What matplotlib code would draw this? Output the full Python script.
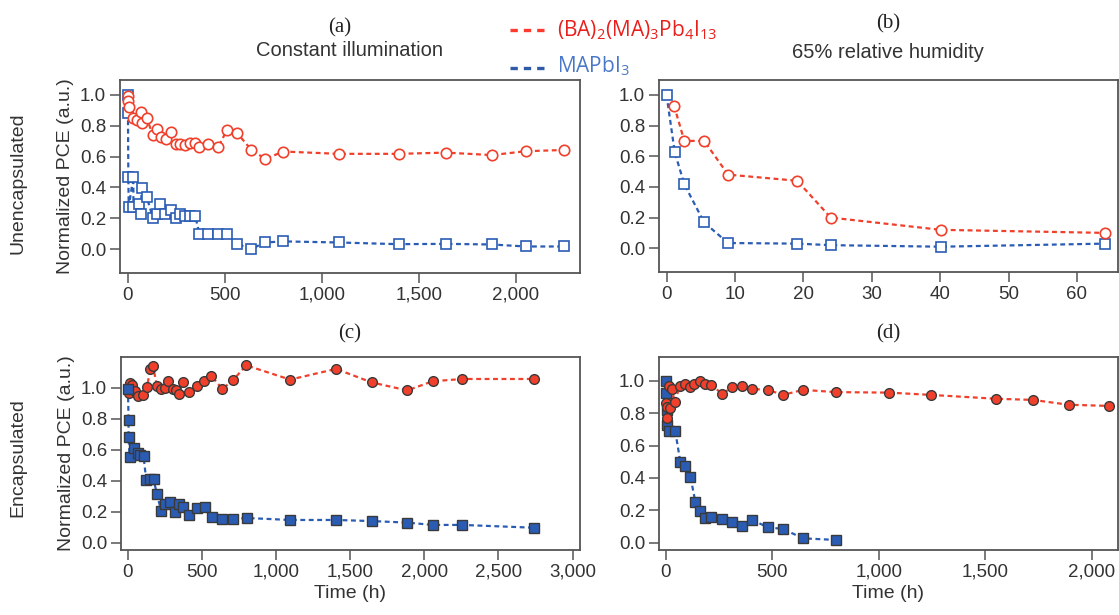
import matplotlib.pyplot as plt
from matplotlib.ticker import FuncFormatter, MultipleLocator

# (a) uncapsulated, constant illumination
a_bapi_t = [3, 3, 5, 29, 46, 67, 72, 98, 129, 149, 172, 196, 223, 249, 270, 295,
            321, 347, 369, 415, 467, 510, 562, 636, 708, 802, 1086, 1395, 1639,
            1876, 2050, 2245]
a_bapi_y = [0.99, 0.96, 0.92, 0.85, 0.84, 0.89, 0.82, 0.85, 0.74, 0.78, 0.73,
            0.715, 0.76, 0.68, 0.685, 0.675, 0.69, 0.69, 0.665, 0.68, 0.665,
            0.77, 0.755, 0.645, 0.585, 0.633, 0.618, 0.618, 0.626, 0.61, 0.635,
            0.643]
a_mapi_t = [0, 1, 3, 5, 29, 29, 60, 67, 72, 98, 129, 149, 167, 193, 223, 249,
            270, 295, 321, 347, 369, 415, 467, 510, 562, 634, 708, 802, 1086,
            1395, 1639, 1876, 2050, 2245]
a_mapi_y = [1.0, 0.885, 0.467, 0.276, 0.467, 0.27, 0.29, 0.227, 0.395, 0.337,
            0.205, 0.227, 0.29, 0.227, 0.255, 0.205, 0.227, 0.218, 0.218, 0.218,
            0.1, 0.1, 0.1, 0.1, 0.034, 0.0, 0.043, 0.05, 0.043, 0.032, 0.034,
            0.03, 0.017, 0.017]

# (b) uncapsulated, 65% RH
b_bapi_t = [1.1, 2.6, 5.5, 9.0, 19.1, 24.0, 40.1, 64.1]
b_bapi_y = [0.93, 0.70, 0.70, 0.48, 0.44, 0.20, 0.12, 0.10]
b_mapi_t = [0, 1.2, 2.6, 5.5, 9.0, 19.1, 24.0, 40.1, 64.1]
b_mapi_y = [1.0, 0.626, 0.417, 0.168, 0.034, 0.03, 0.02, 0.01, 0.03]

# (c) encapsulated, constant illumination
c_bapi_t = [4, 11, 26, 49, 71, 101, 128, 150, 168, 195, 224, 251, 269, 307, 325,
            345, 368, 415, 469, 516, 561, 637, 712, 798, 1094, 1404, 1644, 1884,
            2055, 2255, 2738]
c_bapi_y = [0.97, 1.03, 1.02, 0.98, 0.95, 0.955, 1.004, 1.12, 1.145, 1.015,
            0.993, 1.0, 1.043, 0.994, 0.99, 0.963, 1.036, 0.974, 1.01, 1.043,
            1.08, 0.993, 1.054, 1.146, 1.054, 1.123, 1.036, 0.984, 1.043, 1.058,
            1.058]
c_mapi_t = [0, 4, 4, 11, 38, 65, 83, 105, 123, 150, 173, 195, 224, 251, 285, 319,
            345, 370, 415, 469, 521, 566, 637, 712, 800, 1094, 1404, 1644, 1884,
            2055, 2255, 2738]
c_mapi_y = [0.993, 0.795, 0.683, 0.557, 0.611, 0.579, 0.57, 0.56, 0.406, 0.41,
            0.41, 0.315, 0.207, 0.25, 0.26, 0.197, 0.25, 0.23, 0.18, 0.225, 0.23,
            0.164, 0.153, 0.153, 0.16, 0.147, 0.147, 0.14, 0.13, 0.115, 0.115,
            0.097]

# (d) encapsulated, 65% RH
d_bapi_t = [3, 6, 8, 14, 22, 30, 42, 66, 89, 113, 133, 160, 186, 211, 266, 313,
            360, 405, 480, 551, 645, 801, 1050, 1244, 1552, 1724, 1893, 2081]
d_bapi_y = [0.862, 0.77, 0.84, 0.965, 0.83, 0.949, 0.868, 0.965, 0.981, 0.959,
            0.982, 0.996, 0.981, 0.975, 0.92, 0.961, 0.97, 0.95, 0.944, 0.913,
            0.944, 0.93, 0.927, 0.913, 0.889, 0.882, 0.852, 0.845]
d_mapi_t = [0, 3, 8, 8, 16, 45, 69, 92, 116, 139, 160, 186, 211, 266, 313, 360,
            407, 480, 551, 645, 801]
d_mapi_y = [0.924, 0.996, 0.82, 0.728, 0.687, 0.687, 0.497, 0.476, 0.408, 0.254,
            0.196, 0.155, 0.16, 0.147, 0.126, 0.105, 0.14, 0.095, 0.085, 0.027,
            0.017]

pce_ticks = [0.0, 0.2, 0.4, 0.6, 0.8, 1.0]

RED = "#f0402c"
BLUE = "#2a5cb4"
DASH = (0, (2.2, 1.6))

plt.rcParams["font.family"] = ["Liberation Sans", "DejaVu Sans"]
plt.rcParams["mathtext.fontset"] = "custom"
plt.rcParams["mathtext.rm"] = "Open Sans"
plt.rcParams["mathtext.it"] = "Open Sans"

fig = plt.figure(figsize=(11.19, 6.15), dpi=100)
W, H = 1119, 615


def make_axes(left, right, top, bottom):
    return fig.add_axes([left / W, 1 - bottom / H, (right - left) / W, (bottom - top) / H])


def style(ax, xlim, ylim, xstep):
    ax.set_xlim(*xlim)
    ax.set_ylim(*ylim)
    ax.xaxis.set_major_locator(MultipleLocator(xstep))
    ax.set_yticks(pce_ticks)
    ax.xaxis.set_major_formatter(FuncFormatter(lambda v, p: f"{v:,.0f}"))
    ax.yaxis.set_major_formatter(FuncFormatter(lambda v, p: f"{v:.1f}"))
    ax.tick_params(direction="out", length=7, width=1.1, color="#555555",
                   labelsize=13.5, labelcolor="#333333", pad=3)
    for s in ax.spines.values():
        s.set_color("#555555")
        s.set_linewidth(1.3)


def series(ax, t, y, color, marker, filled):
    ax.plot(t, y, linestyle=DASH, color=color, lw=1.6, zorder=2)
    if filled:
        ax.plot(t, y, linestyle="none", marker=marker, ms=7,
                mfc=color, mec="#3a3a3a", mew=1.0, zorder=3)
    else:
        ax.plot(t, y, linestyle="none", marker=marker, ms=7.5,
                mfc="white", mec=color, mew=1.2, zorder=3)


ax_a = make_axes(120, 580, 80, 273)
series(ax_a, a_mapi_t, a_mapi_y, BLUE, "s", False)
series(ax_a, a_bapi_t, a_bapi_y, RED, "o", False)
style(ax_a, (-40, 2330), (-0.155, 1.097), 500)

ax_b = make_axes(659, 1118, 80, 272)
series(ax_b, b_mapi_t, b_mapi_y, BLUE, "s", False)
series(ax_b, b_bapi_t, b_bapi_y, RED, "o", False)
style(ax_b, (-1.1, 66), (-0.155, 1.097), 10)

ax_c = make_axes(121, 580, 357, 550)
series(ax_c, c_bapi_t, c_bapi_y, RED, "o", True)
series(ax_c, c_mapi_t, c_mapi_y, BLUE, "s", True)
style(ax_c, (-47, 3050), (-0.047, 1.2), 500)

ax_d = make_axes(659, 1118, 357, 550)
series(ax_d, d_mapi_t, d_mapi_y, BLUE, "s", True)
series(ax_d, d_bapi_t, d_bapi_y, RED, "o", True)
style(ax_d, (-31.5, 2124), (-0.045, 1.147), 500)

for ax in (ax_c, ax_d):
    ax.set_xlabel("Time (h)", fontsize=14, color="#333333", labelpad=3)

for ax in (ax_a, ax_c):
    ax.set_ylabel("Normalized PCE (a.u.)", fontsize=14, color="#333333", labelpad=4)

# row labels
fig.text(18 / W, 1 - 183 / H, "Unencapsulated", rotation=90, ha="center",
         va="center", fontsize=14, color="#333333")
fig.text(18 / W, 1 - 458 / H, "Encapsulated", rotation=90, ha="center",
         va="center", fontsize=14, color="#333333")

# panel letters and titles
serif = ["Liberation Serif", "DejaVu Serif"]
for x, y, s in [(340, 28, "(a)"), (888, 24, "(b)"), (350, 334, "(c)"), (888, 334, "(d)")]:
    fig.text(x / W, 1 - y / H, s, ha="center", va="center", fontsize=15,
             family=serif, color="#222222")
fig.text(350 / W, 1 - 51 / H, "Constant illumination", ha="center", va="center",
         fontsize=14.5, color="#333333")
fig.text(888 / W, 1 - 52 / H, "65% relative humidity", ha="center", va="center",
         fontsize=14.5, color="#333333")

# legend at the top
leg_font = ["Open Sans", "DejaVu Sans"]
fig.lines.append(plt.Line2D([510 / W, 546 / W], [1 - 30 / H, 1 - 30 / H],
                            transform=fig.transFigure, color="#ff3b30",
                            lw=2.4, linestyle=(0, (2.2, 1.8))))
fig.lines.append(plt.Line2D([510 / W, 546 / W], [1 - 68 / H, 1 - 68 / H],
                            transform=fig.transFigure, color="#2e5aa6",
                            lw=2.4, linestyle=(0, (2.2, 1.8))))
fig.text(557 / W, 1 - 30 / H, r"(BA)$_2$(MA)$_3$Pb$_4$I$_{13}$", ha="left",
         va="center", fontsize=15, family=leg_font, color="#e8201c")
fig.text(557 / W, 1 - 66 / H, r"MAPbI$_3$", ha="left", va="center",
         fontsize=15, family=leg_font, color="#4a78c8")

fig.savefig("out.png", dpi=100)
